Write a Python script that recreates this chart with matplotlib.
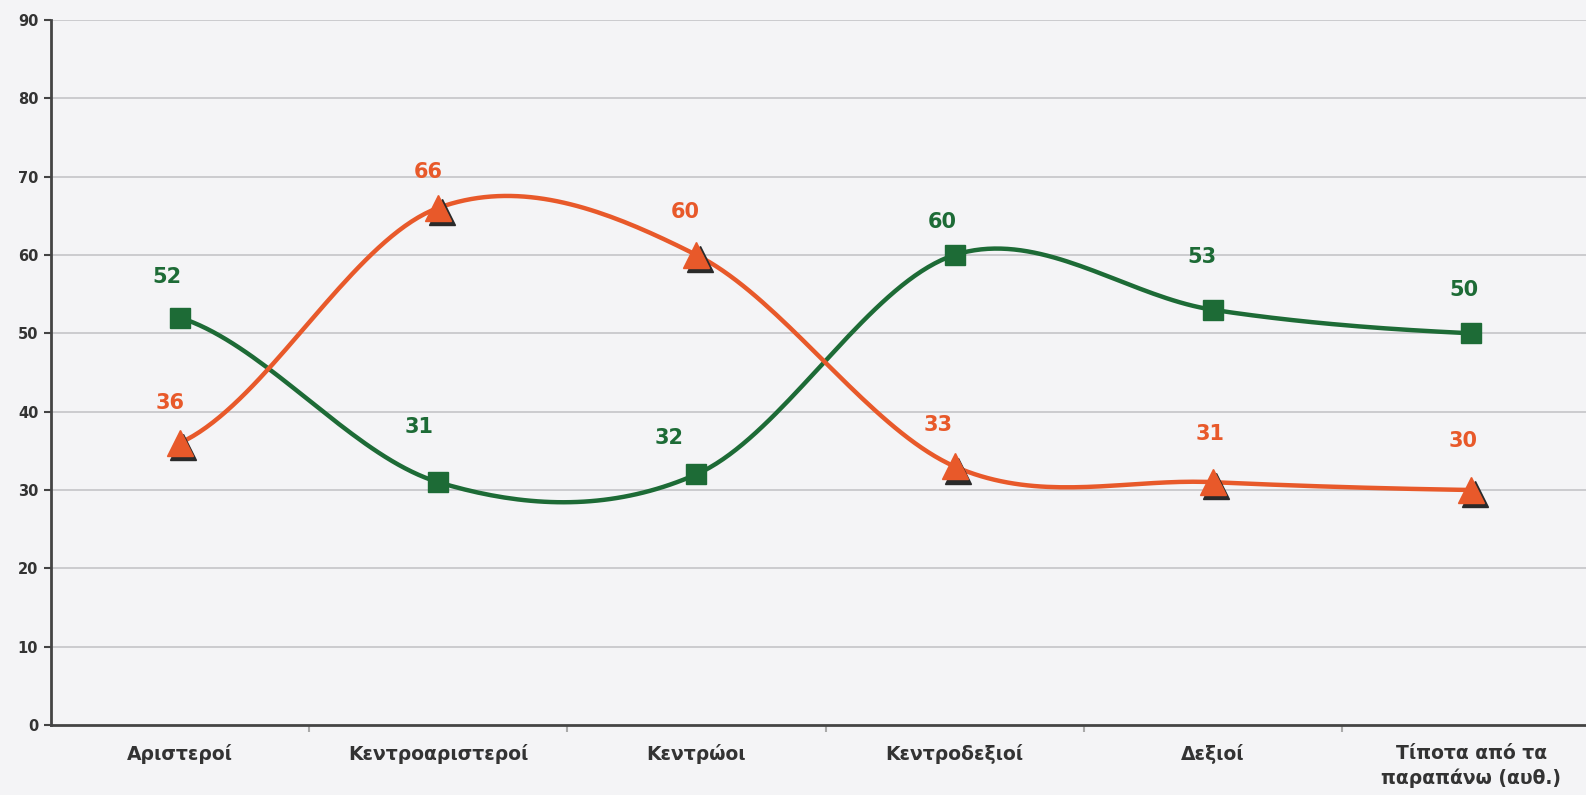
import numpy as np
import matplotlib
matplotlib.use("Agg")
import matplotlib.pyplot as plt
from matplotlib.transforms import offset_copy

categories = ["Αριστεροί", "Κεντροαριστεροί", "Κεντρώοι", "Κεντροδεξιοί",
              "Δεξιοί", "Τίποτα από τα\nπαραπάνω (αυθ.)"]
green_vals = [52, 31, 32, 60, 53, 50]
orange_vals = [36, 66, 60, 33, 31, 30]
yticks = [0, 10, 20, 30, 40, 50, 60, 70, 80, 90]

GREEN = "#1d6b36"
ORANGE = "#e8592a"

# label offsets in points (dx, dy) relative to each marker
green_off = [(-9, 29), (-14, 40), (-20, 26), (-9, 24), (-8, 38), (-5, 31)]
orange_off = [(-7, 29), (-7, 26), (-8, 31), (-12, 30), (-2, 35), (-6, 35)]


def smooth(vals, n=40):
    # catmull-rom, like the "smoothed line" option in spreadsheet charts
    p = np.asarray(vals, dtype=float)
    ext = np.concatenate([[p[0]], p, [p[-1]]])
    xs, ys = [], []
    for i in range(len(p) - 1):
        p0, p1, p2, p3 = ext[i], ext[i + 1], ext[i + 2], ext[i + 3]
        t = np.linspace(0, 1, n)
        m1 = (p2 - p0) / 2
        m2 = (p3 - p1) / 2
        h00 = 2 * t**3 - 3 * t**2 + 1
        h10 = t**3 - 2 * t**2 + t
        h01 = -2 * t**3 + 3 * t**2
        h11 = t**3 - t**2
        ys.append(h00 * p1 + h10 * m1 + h01 * p2 + h11 * m2)
        xs.append(i + t)
    return np.concatenate(xs), np.concatenate(ys)


fig = plt.figure(figsize=(15.86, 7.95), dpi=100)
fig.patch.set_facecolor("#f4f4f6")
ax = fig.add_axes([0.032, 0.088, 0.977, 0.887])
ax.set_facecolor("#f4f4f6")

x = np.arange(len(categories))

for y in yticks[1:]:
    ax.axhline(y, color="#cbcbce", lw=1.4, zorder=1)

gx, gy = smooth(green_vals)
ox, oy = smooth(orange_vals)
ax.plot(gx, gy, color=GREEN, lw=3.2, zorder=3, solid_capstyle="round")
ax.plot(x, green_vals, "s", color=GREEN, ms=14, zorder=4)

ax.plot(ox, oy, color=ORANGE, lw=3.2, zorder=5, solid_capstyle="round")
shadow = offset_copy(ax.transData, fig=fig, x=2.5, y=-3, units="points")
ax.plot(x, orange_vals, "^", color="#2a2a2a", ms=19, zorder=5.5, transform=shadow)
ax.plot(x, orange_vals, "^", color=ORANGE, ms=19, zorder=6)

for xi, v, (dx, dy) in zip(x, green_vals, green_off):
    ax.annotate(str(v), (xi, v), xytext=(dx, dy), textcoords="offset points",
                ha="center", va="center", color=GREEN, fontsize=15,
                fontweight="bold", zorder=7)
for xi, v, (dx, dy) in zip(x, orange_vals, orange_off):
    ax.annotate(str(v), (xi, v), xytext=(dx, dy), textcoords="offset points",
                ha="center", va="center", color=ORANGE, fontsize=15,
                fontweight="bold", zorder=7)

ax.set_xlim(-0.5, len(categories) - 0.5)
ax.set_ylim(0, 90)
ax.set_yticks(yticks)
ax.set_yticklabels([str(v) for v in yticks], fontsize=10.5, fontweight="bold",
                   color="#333333")
ax.set_xticks(x)
ax.set_xticklabels(categories, fontsize=13.5, fontweight="bold", color="#333333",
                   linespacing=1.3)
ax.tick_params(axis="x", length=0, pad=14)
ax.set_xticks(np.arange(0.5, len(categories) - 0.5), minor=True)
ax.tick_params(axis="x", which="minor", length=5, color="#aaaaaa", width=1.5)
ax.tick_params(axis="y", length=5, width=1.5, color="#444444", pad=4)

for s in ["top", "right"]:
    ax.spines[s].set_visible(False)
for s in ["left", "bottom"]:
    ax.spines[s].set_color("#444444")
    ax.spines[s].set_linewidth(2)

fig.savefig("out.png", dpi=100, facecolor=fig.get_facecolor())
